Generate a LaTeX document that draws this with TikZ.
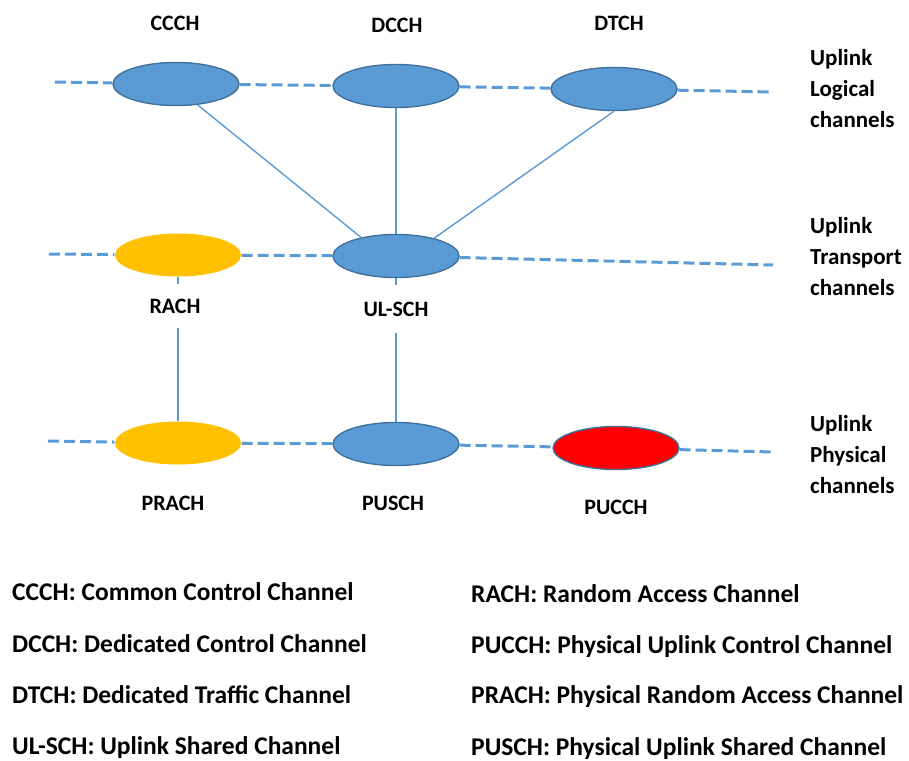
\documentclass[tikz,border=0pt]{standalone}
\usepackage{fontspec}
\setmainfont{Carlito}
\usetikzlibrary{shapes.geometric,backgrounds}
\definecolor{chblue}{HTML}{5B9BD5}
\definecolor{chedge}{HTML}{41719C}
\definecolor{chyellow}{HTML}{FFC000}
\definecolor{chred}{HTML}{FF0000}
\begin{document}
\begin{tikzpicture}[x=1pt,y=-1pt,
  chan/.style={ellipse, minimum width=126pt, minimum height=43pt, inner sep=0pt,
    draw=chedge, line width=1.4pt, fill=chblue},
  randacc/.style={chan, draw=none, fill=chyellow},
  ctrl/.style={chan, fill=chred},
  layerline/.style={chblue, line width=3pt, dash pattern=on 11pt off 5pt},
  link/.style={chblue, line width=1.4pt},
  chlabel/.style={font=\fontsize{22}{26}\selectfont\bfseries, anchor=base, inner sep=0pt},
  masklabel/.style={chlabel, fill=white, inner xsep=4pt},
  layername/.style={font=\fontsize{23}{31}\selectfont\bfseries, anchor=base west,
    align=left, inner sep=0pt},
  legend/.style={font=\fontsize{25.5}{30}\selectfont\bfseries, anchor=base west, inner sep=0pt}
]
\useasboundingbox (0,0) rectangle (909,760);

% ---- logical channels
\node[chan] (ccch) at (176,84) {};
\node[chan] (dcch) at (396,86) {};
\node[chan] (dtch) at (614,89) {};
\coordinate (lL) at (55,82);
\coordinate (lR) at (773,92);

% ---- transport channels
\node[randacc] (rach) at (178,255) {};
\node[chan] (ulsch) at (396,256) {};
\coordinate (tL) at (49,254);
\coordinate (tR) at (773,265);

% ---- physical channels
\node[randacc] (prach) at (178,443) {};
\node[chan] (pusch) at (396,444) {};
\node[ctrl] (pucch) at (616,448) {};
\coordinate (pL) at (48,441);
\coordinate (pR) at (773,452);

% ---- channel names
\node[chlabel] (tccch) at (175,31) {CCCH};
\node[chlabel] (tdcch) at (397,33) {DCCH};
\node[chlabel] (tdtch) at (619,31) {DTCH};
\node[masklabel, minimum height=44pt] (track) at (175,313) {RACH};
\node[masklabel, minimum height=48pt] (tulsch) at (396,316) {UL-SCH};
\node[chlabel] (tprach) at (173,510) {PRACH};
\node[chlabel] (tpusch) at (393,510) {PUSCH};
\node[chlabel] (tpucch) at (616,514) {PUCCH};

% ---- layer names (anchored at the baseline of the last line)
\node[layername] (nlog) at (810,127) {Uplink\\Logical\\channels};
\node[layername] (ntrn) at (810,295) {Uplink\\Transport\\channels};
\node[layername] (nphy) at (810,493) {Uplink\\Physical\\channels};

% ---- legend
\node[legend] (g1) at (12,600) {CCCH: Common Control Channel};
\node[legend] (g2) at (12,652) {DCCH: Dedicated Control Channel};
\node[legend] (g3) at (12,703) {DTCH: Dedicated Traffic Channel};
\node[legend] (g4) at (12,754) {UL-SCH: Uplink Shared Channel};
\node[legend] (g5) at (471,602) {RACH: Random Access Channel};
\node[legend] (g6) at (471,653) {PUCCH: Physical Uplink Control Channel};
\node[legend] (g7) at (471,703) {PRACH: Physical Random Access Channel};
\node[legend] (g8) at (471,755) {PUSCH: Physical Uplink Shared Channel};

% ---- connectors, behind the channel ellipses and labels
\begin{scope}[on background layer]
  \draw[layerline] (lL) -- (ccch) -- (dcch) -- (dtch) -- (lR);
  \draw[layerline] (tL) -- (rach) -- (ulsch) -- (tR);
  \draw[layerline] (pL) -- (prach) -- (pusch) -- (pucch) -- (pR);
  \draw[link] (ccch.-44) -- (ulsch.152);
  \draw[link] (dcch) -- (ulsch);
  \draw[link] (dtch.south) -- (ulsch.25);
  \draw[link] (rach) -- (prach);
  \draw[link] (ulsch) -- (pusch);
\end{scope}
\end{tikzpicture}
\end{document}
